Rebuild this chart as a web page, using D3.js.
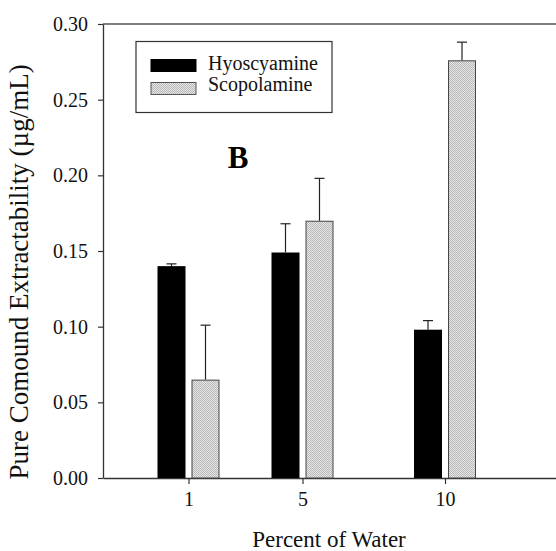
<!DOCTYPE html>
<html><head><meta charset="utf-8">
<script src="https://cdn.jsdelivr.net/npm/d3@7"></script>
<style>body{margin:0;background:#fff}svg{display:block}</style>
</head><body>
<svg id="c" width="556" height="551"></svg>
<script>
const water = [1, 5, 10];
const hyoscyamine = [0.140, 0.149, 0.098];
const hyoscyamineErr = [0.0015, 0.019, 0.006];
const scopolamine = [0.065, 0.170, 0.276];
const scopolamineErr = [0.036, 0.028, 0.012];
const yTicks = [0, 0.05, 0.10, 0.15, 0.20, 0.25, 0.30];
const seriesNames = ["Hyoscyamine", "Scopolamine"];

const svg = d3.select("#c");
const FONT = "Liberation Serif";
const x = d3.scaleLinear().domain([-2, 14]).range([103, 559]);
const y = d3.scaleLinear().domain([0, 0.30]).range([478, 24]);

const defs = svg.append("defs");
const pat = defs.append("pattern").attr("id","stip").attr("patternUnits","userSpaceOnUse")
  .attr("width",2).attr("height",2);
pat.append("rect").attr("width",2).attr("height",2).attr("fill","#e6e6e6");
pat.append("rect").attr("width",1).attr("height",1).attr("fill","#b8b8b8");
pat.append("rect").attr("x",1).attr("y",1).attr("width",1).attr("height",1).attr("fill","#b8b8b8");

const axisColor = "#333";
svg.append("line").attr("x1", x(-2)).attr("x2", 556).attr("y1", y(0.30)).attr("y2", y(0.30))
  .attr("stroke", "#555").attr("stroke-width", 1.3);

const yAxis = svg.append("g").attr("transform", `translate(${x(-2)},0)`)
  .call(d3.axisLeft(y).tickValues(yTicks).tickFormat(d3.format(".2f")).tickSize(5).tickPadding(10).tickSizeOuter(0));
const xAxis = svg.append("g").attr("transform", `translate(0,${y(0)})`)
  .call(d3.axisBottom(x).tickValues(water).tickFormat(d3.format("d")).tickSize(6).tickPadding(8).tickSizeOuter(0));
[yAxis, xAxis].forEach(g => {
  g.attr("font-family", FONT).attr("font-size", 20);
  g.select(".domain").attr("stroke", axisColor).attr("stroke-width", 1.3);
  g.selectAll(".tick line").attr("stroke", axisColor).attr("stroke-width", 1.2);
  g.selectAll(".tick text").attr("fill", "#111").style("font-family", FONT).style("font-size", "20px");
});

const bw = 28, gap = 3;
const bars = svg.append("g");
water.forEach((w, i) => {
  const cx = x(w);
  const hx = cx - gap - bw;
  bars.append("rect").attr("x", hx).attr("y", y(hyoscyamine[i])).attr("width", bw)
    .attr("height", y(0) - y(hyoscyamine[i])).attr("fill", "#000");
  const sx = cx + gap;
  bars.append("rect").attr("x", sx + 0.5).attr("y", y(scopolamine[i]) + 0.5).attr("width", bw - 1)
    .attr("height", y(0) - y(scopolamine[i]) - 0.5).attr("fill", "url(#stip)").attr("stroke", "#444").attr("stroke-width", 1);
  [[hx + bw/2, hyoscyamine[i], hyoscyamineErr[i]], [sx + bw/2, scopolamine[i], scopolamineErr[i]]].forEach(([ex, v, e]) => {
    bars.append("line").attr("x1", ex).attr("x2", ex).attr("y1", y(v)).attr("y2", y(v + e)).attr("stroke", "#222").attr("stroke-width", 1.2);
    bars.append("line").attr("x1", ex - 5).attr("x2", ex + 5).attr("y1", y(v + e)).attr("y2", y(v + e)).attr("stroke", "#222").attr("stroke-width", 1.2);
  });
});

const lg = svg.append("g");
lg.append("rect").attr("x", 136).attr("y", 41.5).attr("width", 196).attr("height", 71)
  .attr("fill", "#fff").attr("stroke", "#333").attr("stroke-width", 1.2);
seriesNames.forEach((s, i) => {
  const yy = 59.5 + i * 23;
  lg.append("rect").attr("x", 151).attr("y", yy).attr("width", 45).attr("height", 12)
    .attr("fill", i === 0 ? "#000" : "url(#stip)").attr("stroke", i === 0 ? "#000" : "#555").attr("stroke-width", 1);
  lg.append("text").attr("x", 208).attr("y", 69.5 + i * 21).text(s)
    .style("font-family", FONT).style("font-size", "20px").attr("fill", "#111");
});

svg.append("text").attr("x", 238).attr("y", 168).attr("text-anchor", "middle").text("B")
  .style("font-family", FONT).style("font-size", "31px").style("font-weight", "bold");

svg.append("text").attr("x", 329).attr("y", 547).attr("text-anchor", "middle").text("Percent of Water")
  .style("font-family", FONT).style("font-size", "23px").attr("fill", "#111");
svg.append("text").attr("transform", "translate(28,272) rotate(-90)").attr("text-anchor", "middle")
  .text("Pure Comound Extractability (µg/mL)")
  .style("font-family", FONT).style("font-size", "27px").attr("fill", "#111");
</script>
</body></html>
